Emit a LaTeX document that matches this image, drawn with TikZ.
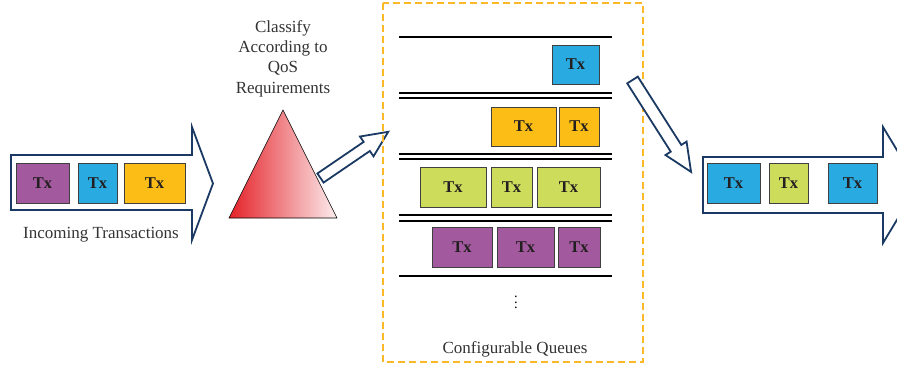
\documentclass[tikz,border=0pt]{standalone}
\usepackage{fontspec}
\setmainfont{Liberation Serif}
\usetikzlibrary{calc,positioning}

\definecolor{txpurple}{HTML}{A3599E}
\definecolor{txblue}{HTML}{29ABE2}
\definecolor{txyellow}{HTML}{FCBE16}
\definecolor{txgreen}{HTML}{CDDC5A}
\definecolor{txtext}{HTML}{231F20}
\definecolor{navy}{HTML}{1B3A63}
\definecolor{queueorange}{HTML}{FBB829}
\definecolor{labelgray}{HTML}{333333}
\definecolor{trired}{HTML}{E42128}
\definecolor{trilight}{HTML}{FCEDEE}

\begin{document}
\begin{tikzpicture}[x=1pt,y=-1pt]
\tikzstyle{tx} = [draw=black!75, line width=0.8pt, minimum height=40pt, inner sep=0pt, outer sep=0pt, text=txtext, font=\bfseries\fontsize{16.5}{16.5}\selectfont]
\tikzstyle{label} = [text=labelgray, align=center, font=\fontsize{17}{20.3}\selectfont]
\tikzstyle{fat} = [draw=navy, line width=1.8pt, fill=white, line join=miter]
\tikzstyle{qline} = [line width=1.4pt, black]
    \useasboundingbox (0,0) rectangle (897,370);
    \clip (0,0) rectangle (897,370);

    % incoming arrow
    \draw[fat] (11,155) -- (192,155) -- (192,127) -- (213,183.5) -- (192,240) -- (192,210) -- (11,210) -- cycle;
    \node[tx,fill=txpurple,minimum width=53pt,anchor=west] (in1) at (16,183) {Tx};
    \node[tx,fill=txblue,minimum width=39pt,right=9pt of in1] (in2) {Tx};
    \node[tx,fill=txyellow,minimum width=61pt,right=7pt of in2] (in3) {Tx};
    \node[label,anchor=base] (incoming) at (101,238) {Incoming Transactions};

    % classifier
    \node[label] (classify) at (283,58.5) {Classify\\According to\\QoS\\Requirements};
    \coordinate (TriLeft) at (229,218);
    \coordinate (TriTop) at (283,110);
    \coordinate (TriRight) at (337,218);
    \shadedraw[left color=trired, right color=trilight, draw=black, line width=0.6pt] (TriLeft) -- (TriTop) -- (TriRight) -- cycle;

    % arrow into the queues
    \begin{scope}[shift={(320.5,178)}, rotate=34.3]
        \draw[fat] (0,-5.5) -- (56,-5.5) -- (56,-12) -- (82,0) -- (56,12) -- (56,5.5) -- (0,5.5) -- cycle;
    \end{scope}

    % queues
    \draw[queueorange, line width=1.6pt, dash pattern=on 7pt off 4pt] (383,3) rectangle (643,362);
    \foreach \y in {37,93,98,154,159,215,221,276}
        \draw[qline] (399,\y) -- (612,\y);
    \node[tx,fill=txblue,minimum width=47pt,minimum height=39pt,anchor=west] (q11) at (552,64.5) {Tx};
    \node[tx,fill=txyellow,minimum width=65pt,minimum height=39pt,anchor=west] (q21) at (491,126.5) {Tx};
    \node[tx,fill=txyellow,minimum width=40pt,minimum height=39pt,right=3pt of q21] (q22) {Tx};
    \node[tx,fill=txgreen,minimum width=66pt,anchor=west] (q31) at (420,187) {Tx};
    \node[tx,fill=txgreen,minimum width=41pt,right=5pt of q31] (q32) {Tx};
    \node[tx,fill=txgreen,minimum width=63pt,right=5pt of q32] (q33) {Tx};
    \node[tx,fill=txpurple,minimum width=60pt,anchor=west] (q41) at (432,247) {Tx};
    \node[tx,fill=txpurple,minimum width=57pt,right=5pt of q41] (q42) {Tx};
    \node[tx,fill=txpurple,minimum width=42pt,right=4pt of q42] (q43) {Tx};
    \node[text=black, scale=1.45, inner sep=0pt] (more) at (516,298) {$\vdots$};
    \node[label,anchor=base] (queues) at (515,353) {Configurable Queues};

    % arrow out of the queues
    \begin{scope}[shift={(632.5,80)}, rotate=-57.5]
        \draw[fat] (0,-6.25) -- (81,-6.25) -- (81,-12.5) -- (109,0) -- (81,12.5) -- (81,6.25) -- (0,6.25) -- cycle;
    \end{scope}

    % outgoing arrow
    \draw[fat] (703,157) -- (883,157) -- (883,127) -- (918,185) -- (883,243) -- (883,213) -- (703,213) -- cycle;
    \node[tx,fill=txblue,minimum width=53pt,anchor=west] (out1) at (707,183) {Tx};
    \node[tx,fill=txgreen,minimum width=39pt,right=9pt of out1] (out2) {Tx};
    \node[tx,fill=txblue,minimum width=49pt,right=20pt of out2] (out3) {Tx};
\end{tikzpicture}
\end{document}
